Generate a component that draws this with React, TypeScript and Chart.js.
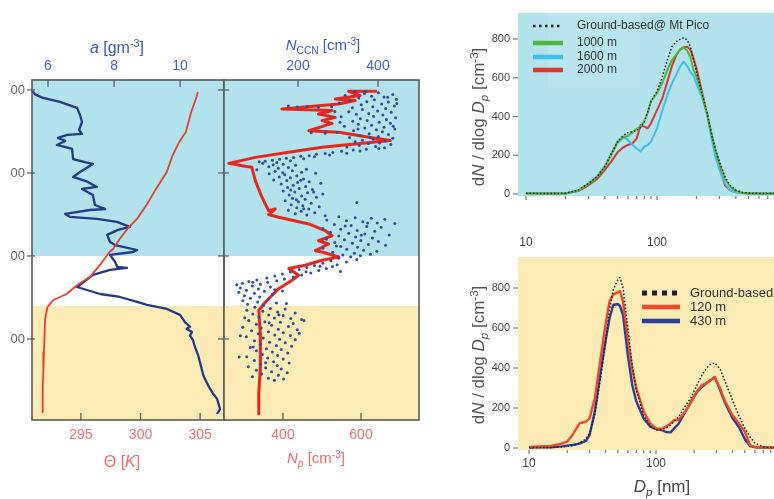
import React, { useEffect, useRef } from 'react';
import { Chart, registerables } from 'chart.js';

Chart.register(...registerables);

const FONT = '"Liberation Sans", Arial, Helvetica, sans-serif';
const CYAN = '#b2e2ec';
const YELLOW = '#fcebb4';

// ---------------- DATA ----------------
// Vertical profiles (altitude in m)
const altitudeTicks = [500, 1000, 1500, 2000];
const aTicks = [6, 8, 10];
const thetaTicks = [295, 300, 305];
const ccnTicks = [200, 400];
const npTicks = [400, 600];
const cloudLayerBase = 1000; // top of white band
const mixedLayerTop = 700; // top of yellow band

const humidityA = [5.53, 5.6, 5.85, 6.36, 6.88, 6.97, 7.03, 6.94, 7.03, 6.58, 6.3, 6.52, 6.27, 6.73, 6.76, 7.12, 7.36, 6.97, 6.76, 7.21, 7.48, 7.03, 7.36, 7.42, 7.73, 7.27, 6.52, 6.67, 7.48, 8.09, 8.48, 8.12, 7.79, 7.88, 8.03, 8.7, 8.58, 7.88, 8.03, 8.1, 8.39, 7.88, 7.36, 6.88, 7.18, 7.58, 8.18, 8.7, 9.0, 9.6, 10.0, 10.15, 10.3, 10.2, 10.36, 10.3, 10.39, 10.45, 10.55, 10.6, 10.7, 10.8, 10.91, 11.0, 11.12, 11.21, 11.12];
const humidityAlt = [1994, 1975, 1952, 1928, 1892, 1849, 1807, 1759, 1735, 1729, 1711, 1693, 1669, 1645, 1584, 1566, 1554, 1506, 1476, 1446, 1416, 1404, 1367, 1307, 1283, 1277, 1253, 1235, 1223, 1205, 1175, 1157, 1127, 1084, 1066, 1036, 1024, 1006, 964, 934, 928, 916, 886, 813, 795, 771, 753, 723, 705, 681, 645, 600, 575, 560, 542, 520, 494, 452, 400, 361, 283, 240, 199, 170, 139, 78, 48];

const thetaK = [304.8, 304.7, 304.25, 303.8, 303.25, 302.7, 302.2, 301.3, 300.5, 299.7, 298.9, 298.25, 297.7, 297.4, 296.6, 295.75, 294.7, 293.8, 292.7, 292.2, 292.0, 291.9, 291.85, 291.8, 291.8];
const thetaAlt = [1988, 1958, 1867, 1747, 1687, 1608, 1506, 1404, 1307, 1223, 1163, 1102, 1042, 1024, 946, 873, 825, 771, 735, 693, 620, 422, 300, 223, 60];

const npConc = [641, 568, 598, 534, 585, 543, 397, 526, 491, 534, 500, 526, 466, 543, 620, 675, 585, 500, 415, 329, 261, 295, 320, 329, 346, 363, 380, 363, 389, 466, 508, 526, 491, 517, 483, 500, 543, 500, 457, 415, 440, 423, 389, 355, 338, 342, 342, 338, 338];
const npAlt = [1992, 1992, 1966, 1946, 1936, 1916, 1886, 1876, 1855, 1835, 1815, 1799, 1755, 1745, 1715, 1695, 1675, 1655, 1625, 1594, 1558, 1544, 1534, 1454, 1354, 1273, 1283, 1249, 1233, 1193, 1153, 1122, 1092, 1072, 1032, 1024, 994, 974, 944, 924, 884, 854, 803, 723, 673, 522, 321, 181, 50];

// N_CCN samples: [N_CCN, altitude]
const ccnSamples = [
  [342, 1991], [401, 1983], [366, 1979], [437, 1972], [318, 1966], [384, 1962], [415, 1957], [352, 1951], [446, 1944], [391, 1941], [331, 1936], [372, 1929], [426, 1927], [303, 1921], [409, 1915], [358, 1911], [441, 1903], [387, 1899], [336, 1893], [176, 1904], [198, 1897], [223, 1901], [251, 1896], [284, 1899], [419, 1888], [361, 1882], [399, 1874], [327, 1869], [433, 1866], [377, 1858], [346, 1853], [412, 1849], [389, 1841], [308, 1838], [444, 1833], [356, 1827], [421, 1822], [373, 1816], [337, 1811], [403, 1806], [431, 1799], [351, 1793], [384, 1787], [316, 1782], [415, 1776], [367, 1771], [442, 1765], [396, 1760], [339, 1754], [411, 1749], [233, 1742], [268, 1739], [298, 1744], [378, 1736], [426, 1731], [355, 1725], [401, 1720], [329, 1713], [437, 1709], [388, 1703], [361, 1697], [418, 1692], [343, 1688], [404, 1681], [376, 1677], [432, 1671], [353, 1666], [394, 1660], [322, 1657], [416, 1652],
  [447, 1918], [438, 1781], [305, 1806], [292, 1871], [424, 1956], [370, 1990], [350, 1765], [380, 1715],
  [402, 1647], [371, 1643], [338, 1638], [355, 1633], [309, 1631], [287, 1624], [322, 1619], [268, 1617], [246, 1613], [279, 1608], [228, 1604], [207, 1601], [241, 1597], [189, 1593], [171, 1589], [214, 1586], [154, 1582], [136, 1577], [181, 1574], [118, 1571], [103, 1567], [147, 1563],
  [112, 1558], [163, 1553], [138, 1549], [194, 1546], [127, 1538], [176, 1533], [151, 1529], [221, 1523], [97, 1519], [186, 1514], [143, 1511], [209, 1504], [244, 1499], [128, 1496], [167, 1489], [197, 1483], [153, 1476], [181, 1471], [214, 1463], [139, 1458], [172, 1454], [228, 1447], [199, 1443], [257, 1438], [158, 1433], [188, 1426], [219, 1419], [174, 1413], [203, 1407], [236, 1401], [163, 1392], [192, 1386], [224, 1381], [262, 1374], [178, 1367], [209, 1361], [246, 1354], [186, 1347], [218, 1341], [168, 1333], [201, 1326], [347, 1322], [233, 1317], [183, 1309], [212, 1303], [253, 1297], [197, 1291], [227, 1283], [176, 1276], [208, 1269], [242, 1261], [193, 1254], [222, 1247], [268, 1243], [182, 1398], [207, 1456], [162, 1502], [239, 1386], [196, 1339], [214, 1285],
  [302, 1236], [343, 1231], [383, 1227], [417, 1221], [272, 1216], [321, 1212], [362, 1206], [398, 1199], [442, 1196], [291, 1189], [333, 1183], [372, 1177], [408, 1173], [262, 1166], [307, 1161], [348, 1154], [392, 1149], [281, 1143], [327, 1137], [367, 1133], [428, 1127], [302, 1121], [344, 1114], [386, 1109], [271, 1103], [316, 1097], [357, 1093], [401, 1087], [292, 1081], [336, 1076], [376, 1069], [419, 1064], [307, 1057], [349, 1053], [262, 1046], [322, 1041], [364, 1034], [397, 1029], [287, 1023], [341, 1017], [381, 1011], [312, 1006], [356, 1001], [318, 1180], [358, 1125], [296, 1060], [374, 1198],
  [332, 996], [302, 987], [347, 979], [282, 971], [321, 963], [262, 956], [298, 947], [241, 943], [286, 937], [222, 931], [271, 924], [203, 919], [252, 913], [306, 907], [181, 903], [232, 897], [161, 891], [209, 885], [142, 879], [188, 873], [122, 867], [166, 861], [97, 856], [147, 851], [77, 846], [124, 841], [61, 836], [106, 829], [47, 826], [86, 819], [131, 813], [56, 807], [101, 801], [71, 793], [116, 787], [52, 781], [91, 775], [136, 769], [66, 761], [104, 753], [81, 746], [126, 739], [62, 731], [99, 723], [146, 717], [74, 709], [114, 703], [171, 714], [161, 789], [255, 938], [220, 905], [87, 842], [142, 796],
  [92, 691], [131, 684], [168, 681], [72, 673], [112, 667], [149, 663], [193, 657], [87, 651], [127, 644], [163, 641], [102, 633], [141, 627], [182, 623], [209, 617], [77, 611], [117, 604], [156, 601], [188, 594], [96, 589], [134, 583], [176, 575], [62, 571], [108, 566], [151, 559], [198, 556], [84, 549], [126, 543], [163, 537], [101, 531], [142, 524], [181, 521], [71, 513], [113, 506], [154, 499], [193, 496], [91, 489], [129, 481], [168, 477], [106, 469], [146, 461], [184, 456], [81, 449], [121, 441], [158, 437], [96, 429], [136, 421], [174, 416], [111, 407], [149, 401], [72, 393], [124, 386], [163, 379], [91, 371], [139, 363], [178, 356], [106, 347], [148, 341], [76, 333], [119, 326], [158, 319], [96, 311], [134, 303], [173, 296], [109, 289], [151, 281], [86, 273], [126, 264], [164, 259], [141, 251], [56, 519], [53, 391], [215, 612], [203, 534], [128, 598], [88, 452], [119, 357], [152, 646], [67, 628],
];

// Size distributions, top (cloud layer) panel
const diam3 = [10, 15, 20, 25, 30, 35, 40, 45, 50, 55, 60, 65, 70, 75, 80, 85, 90, 95, 100, 110, 120, 130, 140, 150, 160, 170, 180, 190, 200, 220, 240, 260, 280, 300, 330, 360, 400, 450, 500, 600, 800, 1000];
const groundPico = [4, 2, 4, 20, 55, 90, 141, 210, 270, 300, 317, 322, 327, 344, 373, 425, 476, 506, 528, 606, 692, 760, 786, 798, 806, 795, 760, 692, 632, 520, 425, 313, 227, 167, 89, 46, 20, 8, 5, 3, 3, 3];
const at1000 = [2, 2, 3, 18, 52, 88, 140, 205, 265, 290, 300, 318, 335, 350, 375, 420, 480, 500, 520, 575, 640, 690, 720, 745, 755, 740, 705, 640, 605, 515, 420, 315, 225, 160, 80, 40, 15, 6, 3, 2, 2, 2];
const at1600 = [2, 2, 3, 18, 55, 92, 145, 210, 270, 296, 279, 253, 235, 220, 245, 253, 270, 305, 339, 433, 511, 571, 614, 657, 683, 660, 630, 610, 570, 500, 420, 290, 190, 125, 55, 20, 8, 4, 2, 2, 2, 2];
const at2000 = [2, 2, 3, 15, 45, 78, 124, 170, 215, 240, 253, 262, 287, 356, 348, 339, 365, 399, 433, 495, 580, 660, 715, 745, 757, 760, 745, 700, 650, 530, 420, 310, 215, 140, 45, 20, 10, 5, 3, 2, 2, 2];

// Size distributions, bottom (boundary layer) panel
const diam4 = [10, 12, 15, 18, 20, 22, 25, 28, 30, 33, 36, 40, 43, 46, 50, 52, 55, 60, 65, 70, 80, 90, 100, 110, 120, 130, 140, 150, 170, 190, 210, 230, 250, 270, 290, 320, 350, 400, 450, 500, 550, 600, 700, 800, 1000];
const groundBased = [2, 2, 3, 5, 8, 12, 25, 45, 75, 170, 320, 530, 690, 790, 840, 852, 800, 600, 410, 290, 160, 110, 90, 92, 100, 115, 135, 155, 210, 255, 315, 365, 400, 420, 425, 395, 332, 240, 160, 100, 55, 25, 5, 2, 2];
const at120 = [5, 8, 10, 22, 32, 65, 123, 132, 148, 248, 415, 615, 732, 768, 778, 785, 732, 548, 398, 298, 182, 123, 98, 95, 107, 123, 140, 140, 182, 232, 282, 315, 323, 340, 352, 298, 232, 165, 123, 82, 15, 5, 3, 2, 2];
const at430 = [2, 3, 4, 8, 12, 15, 22, 35, 65, 182, 348, 532, 648, 715, 720, 710, 665, 465, 315, 232, 148, 107, 95, 90, 80, 78, 100, 120, 180, 235, 280, 305, 325, 340, 355, 290, 225, 150, 105, 45, 10, 4, 2, 2, 2];

const sizeTicks = [10, 20, 30, 40, 50, 60, 70, 80, 90, 100, 200, 300, 400, 500, 600, 700, 800, 900, 1000];
const sizeTickLabels = [10, 100];
const dndTicks = [0, 200, 400, 600, 800];

// ---------------- LAYOUT ----------------
type Geo = { left: number; top: number; width: number; height: number; l: number; t: number; r: number; b: number };
const G1: Geo = { left: 11, top: 30, width: 215, height: 440, l: 32, t: 80, r: 224, b: 420 };
const G2: Geo = { left: 218, top: 30, width: 203, height: 440, l: 224, t: 80, r: 419, b: 420 };
const G3: Geo = { left: 462, top: 0, width: 338, height: 252, l: 518, t: 13, r: 788, b: 196 };
const G4: Geo = { left: 462, top: 252, width: 338, height: 247, l: 518, t: 257, r: 783, b: 450 };

const fixedTicks = (values: number[]) => (s: any) => {
  s.ticks = values.map((v) => ({ value: v }));
};
const sizeFix = (px: number, horiz: boolean) => (s: any) => {
  if (horiz) s.height = px;
  else s.width = px;
  s.paddingLeft = 0;
  s.paddingRight = 0;
  s.paddingTop = 0;
  s.paddingBottom = 0;
};

type Part = { t: string; it?: boolean; sub?: boolean; sup?: boolean };
function drawRich(ctx: any, parts: Part[], x: number, y: number, size: number, color: string, rotate = false) {
  ctx.save();
  ctx.translate(x, y);
  if (rotate) ctx.rotate(-Math.PI / 2);
  const fontFor = (p: Part) => `${p.it ? 'italic ' : ''}${p.sub || p.sup ? size * 0.68 : size}px ${FONT}`;
  let total = 0;
  const widths = parts.map((p) => {
    ctx.font = fontFor(p);
    const w = ctx.measureText(p.t).width;
    total += w;
    return w;
  });
  let cx = -total / 2;
  ctx.fillStyle = color;
  ctx.textBaseline = 'alphabetic';
  ctx.textAlign = 'left';
  parts.forEach((p, i) => {
    ctx.font = fontFor(p);
    const dy = p.sub ? size * 0.25 : p.sup ? -size * 0.38 : 0;
    ctx.fillText(p.t, cx, size * 0.36 + dy);
    cx += widths[i];
  });
  ctx.restore();
}

function marks(chart: any, id: string, inner: number, outer: number, color: string, major?: number[], minorOuter = 2.5) {
  const s = chart.scales[id];
  const a = chart.chartArea;
  const ctx = chart.ctx;
  ctx.save();
  ctx.strokeStyle = color;
  ctx.lineWidth = 1.2;
  for (const t of s.ticks) {
    const p = s.getPixelForValue(t.value);
    const isMajor = !major || major.includes(t.value);
    const o = isMajor ? outer : minorOuter;
    const i = isMajor ? inner : 0;
    ctx.beginPath();
    if (s.position === 'left') {
      ctx.moveTo(a.left - o, p);
      ctx.lineTo(a.left + i, p);
    } else if (s.position === 'top') {
      ctx.moveTo(p, a.top - o);
      ctx.lineTo(p, a.top + i);
    } else {
      ctx.moveTo(p, a.bottom + o);
      ctx.lineTo(p, a.bottom - i);
    }
    ctx.stroke();
  }
  ctx.restore();
}

const bandPlugin = {
  id: 'bands',
  beforeDatasetsDraw(chart: any) {
    const ctx = chart.ctx;
    const a = chart.chartArea;
    const ys = chart.scales.y;
    const yc = ys.getPixelForValue(cloudLayerBase);
    const ym = ys.getPixelForValue(mixedLayerTop);
    ctx.save();
    ctx.fillStyle = CYAN;
    ctx.fillRect(a.left, a.top, a.right - a.left, yc - a.top);
    ctx.fillStyle = YELLOW;
    ctx.fillRect(a.left, ym, a.right - a.left, a.bottom - ym);
    ctx.restore();
  },
};
const fillPlugin = (color: string) => ({
  id: 'fillbg',
  beforeDatasetsDraw(chart: any) {
    const ctx = chart.ctx;
    const a = chart.chartArea;
    ctx.save();
    ctx.fillStyle = color;
    ctx.fillRect(a.left, a.top, a.right - a.left, a.bottom - a.top);
    ctx.restore();
  },
});

const baseOptions = (g: Geo, hasTop: boolean) => ({
  responsive: false,
  animation: false,
  events: [],
  layout: {
    autoPadding: false,
    padding: {
      left: 0,
      right: g.left + g.width - g.r,
      top: hasTop ? 0 : g.t - g.top,
      bottom: 0,
    },
  },
  plugins: { legend: { display: false }, tooltip: { enabled: false }, title: { display: false } },
});

const numLabel = (v: any) => String(v);
const noGrid = { display: false, drawTicks: false };
const noBorder = { display: false };

function cfg1(): any {
  const g = G1;
  return {
    type: 'scatter',
    data: {
      datasets: [
        {
          label: 'Θ',
          data: thetaK.map((v, i) => ({ x: v, y: thetaAlt[i] })),
          xAxisID: 'xt', yAxisID: 'y', showLine: true, pointRadius: 0,
          borderColor: '#e3402f', borderWidth: 1.8, borderJoinStyle: 'round',
        },
        {
          label: 'a',
          data: humidityA.map((v, i) => ({ x: v, y: humidityAlt[i] })),
          xAxisID: 'xa', yAxisID: 'y', showLine: true, pointRadius: 0,
          borderColor: '#22398c', borderWidth: 2.3, borderJoinStyle: 'round',
        },
      ],
    },
    options: {
      ...baseOptions(g, true),
      scales: {
        xa: {
          type: 'linear', position: 'top', min: 5.515, max: 11.33,
          afterBuildTicks: fixedTicks(aTicks), afterFit: sizeFix(g.t - g.top, true),
          grid: noGrid, border: noBorder,
          ticks: { color: '#4964b5', font: { family: FONT, size: 14 }, padding: 5, maxRotation: 0, autoSkip: false, callback: numLabel },
        },
        xt: {
          type: 'linear', position: 'bottom', min: 290.9, max: 307,
          afterBuildTicks: fixedTicks(thetaTicks), afterFit: sizeFix(g.top + g.height - g.b, true),
          grid: noGrid, border: noBorder,
          ticks: { color: '#ea6f70', font: { family: FONT, size: 14 }, padding: 7, maxRotation: 0, autoSkip: false, callback: numLabel },
        },
        y: {
          type: 'linear', position: 'left', min: 12, max: 2060,
          afterBuildTicks: fixedTicks(altitudeTicks), afterFit: sizeFix(g.l - g.left, false),
          grid: noGrid, border: noBorder,
          ticks: { color: '#666', font: { family: FONT, size: 13 }, padding: 7, autoSkip: false, callback: numLabel },
        },
      },
    },
    plugins: [
      bandPlugin,
      {
        id: 'deco1',
        afterDraw(chart: any) {
          const ctx = chart.ctx;
          const a = chart.chartArea;
          marks(chart, 'xa', 7, 0, '#555');
          marks(chart, 'xt', 7, 0, '#555');
          marks(chart, 'y', 3, 5, '#555');
          ctx.save();
          ctx.strokeStyle = '#5a5a5a';
          ctx.lineWidth = 1.6;
          ctx.strokeRect(a.left, a.top, a.right - a.left, a.bottom - a.top);
          ctx.restore();
          drawRich(ctx, [{ t: 'a', it: true }, { t: ' [gm' }, { t: '-3', sup: true }, { t: ']' }], 117 - g.left, 47 - g.top, 16, '#3e5bb5');
          drawRich(ctx, [{ t: 'Θ [' }, { t: 'K', it: true }, { t: ']' }], 122 - g.left, 461 - g.top, 16, '#ea6b6b');
        },
      },
    ],
  };
}

function cfg2(): any {
  const g = G2;
  return {
    type: 'scatter',
    data: {
      datasets: [
        {
          label: 'N_CCN',
          data: ccnSamples.map((p) => ({ x: p[0], y: p[1] })),
          xAxisID: 'xc', yAxisID: 'y', showLine: false, pointRadius: 1.5,
          pointBackgroundColor: '#2d4ea5', pointBorderWidth: 0,
        },
        {
          label: 'N_p',
          data: npConc.map((v, i) => ({ x: v, y: npAlt[i] })),
          xAxisID: 'xn', yAxisID: 'y', showLine: true, pointRadius: 0,
          borderColor: '#e8261c', borderWidth: 3, borderJoinStyle: 'round',
        },
      ],
    },
    options: {
      ...baseOptions(g, true),
      scales: {
        xc: {
          type: 'linear', position: 'top', min: 15, max: 502.5,
          afterBuildTicks: fixedTicks(ccnTicks), afterFit: sizeFix(g.t - g.top, true),
          grid: noGrid, border: noBorder,
          ticks: { color: '#4964b5', font: { family: FONT, size: 14 }, padding: 5, maxRotation: 0, autoSkip: false, callback: numLabel },
        },
        xn: {
          type: 'linear', position: 'bottom', min: 248.7, max: 748.7,
          afterBuildTicks: fixedTicks(npTicks), afterFit: sizeFix(g.top + g.height - g.b, true),
          grid: noGrid, border: noBorder,
          ticks: { color: '#ea6f70', font: { family: FONT, size: 14 }, padding: 7, maxRotation: 0, autoSkip: false, callback: numLabel },
        },
        y: {
          type: 'linear', position: 'left', min: 12, max: 2060,
          afterBuildTicks: fixedTicks(altitudeTicks), afterFit: sizeFix(g.l - g.left, false),
          grid: noGrid, border: noBorder,
          ticks: { display: false },
        },
      },
    },
    plugins: [
      bandPlugin,
      {
        id: 'deco2',
        afterDraw(chart: any) {
          const ctx = chart.ctx;
          const a = chart.chartArea;
          marks(chart, 'xc', 7, 0, '#555');
          marks(chart, 'xn', 7, 0, '#555');
          marks(chart, 'y', 5, 6, '#555');
          ctx.save();
          ctx.strokeStyle = '#5a5a5a';
          ctx.lineWidth = 1.6;
          ctx.strokeRect(a.left, a.top, a.right - a.left, a.bottom - a.top);
          ctx.restore();
          drawRich(ctx, [{ t: 'N', it: true }, { t: 'CCN', sub: true }, { t: ' [cm' }, { t: '-3', sup: true }, { t: ']' }], 323 - g.left, 45 - g.top, 15, '#3e5bb5');
          drawRich(ctx, [{ t: 'N', it: true }, { t: 'p', it: true, sub: true }, { t: ' [cm' }, { t: '-3', sup: true }, { t: ']' }], 316 - g.left, 458 - g.top, 15, '#ea6b6b');
        },
      },
    ],
  };
}

const yTitle: Part[] = [{ t: 'd' }, { t: 'N', it: true }, { t: ' / dlog ' }, { t: 'D', it: true }, { t: 'p', it: true, sub: true }, { t: ' [cm' }, { t: '-3', sup: true }, { t: ']' }];

function sizeScales(g: Geo, xmin: number, ymin: number, ymax: number, xPad: number) {
  return {
    x: {
      type: 'logarithmic', position: 'bottom', min: xmin, max: 1000,
      afterBuildTicks: fixedTicks(sizeTicks), afterFit: sizeFix(g.top + g.height - g.b, true),
      grid: noGrid, border: noBorder,
      ticks: {
        color: '#444', font: { family: FONT, size: 12 }, padding: xPad, maxRotation: 0, minRotation: 0, autoSkip: false,
        callback: (v: any) => (sizeTickLabels.includes(Number(v)) ? String(v) : ''),
      },
    },
    y: {
      type: 'linear', position: 'left', min: ymin, max: ymax,
      afterBuildTicks: fixedTicks(dndTicks), afterFit: sizeFix(g.l - g.left, false),
      grid: noGrid, border: noBorder,
      ticks: { color: '#444', font: { family: FONT, size: 11 }, padding: 8, autoSkip: false, callback: numLabel },
    },
  };
}

const line = (label: string, xs: number[], ys: number[], color: string, width: number, dash?: number[]) => ({
  label,
  data: ys.map((v, i) => ({ x: xs[i], y: v })),
  showLine: true, pointRadius: 0, borderColor: color, borderWidth: width,
  borderDash: dash || [], borderJoinStyle: 'round',
});

function legend(ctx: any, chart: any, g: Geo, x1: number, x2: number, tx: number, rows: number[], size: number, dashSample: { w: number; d: number[] }) {
  chart.data.datasets.forEach((ds: any, i: number) => {
    const y = rows[i] - g.top;
    ctx.save();
    ctx.beginPath();
    ctx.strokeStyle = ds.borderColor;
    if (ds.borderDash && ds.borderDash.length) {
      ctx.lineWidth = dashSample.w;
      ctx.setLineDash(dashSample.d);
    } else {
      ctx.lineWidth = 4.5;
    }
    ctx.moveTo(x1 - g.left, y);
    ctx.lineTo(x2 - g.left, y);
    ctx.stroke();
    ctx.setLineDash([]);
    ctx.fillStyle = '#333';
    ctx.font = `${size}px ${FONT}`;
    ctx.textBaseline = 'middle';
    ctx.textAlign = 'left';
    ctx.fillText(ds.label, tx - g.left, y);
    ctx.restore();
  });
}

function cfg3(): any {
  const g = G3;
  return {
    type: 'scatter',
    data: {
      datasets: [
        line('Ground-based@ Mt Pico', diam3, groundPico, '#1f1f1f', 1.5, [1.5, 2]),
        line('1000 m', diam3, at1000, '#4cb83c', 2),
        line('1600 m', diam3, at1600, '#3fbfe9', 2),
        line('2000 m', diam3, at2000, '#d63a34', 2),
      ],
    },
    options: { ...baseOptions(g, false), scales: sizeScales(g, 8.69, -10.3, 934, 39) },
    plugins: [
      fillPlugin(CYAN),
      {
        id: 'deco3',
        afterDraw(chart: any) {
          const ctx = chart.ctx;
          marks(chart, 'x', 0, 4, '#777', sizeTickLabels, 3);
          marks(chart, 'y', 0, 5, '#777');
          ctx.save();
          ctx.fillStyle = 'rgba(255,255,255,0.10)';
          ctx.fillRect(548 - g.left, 14 - g.top, 92, 74);
          ctx.restore();
          legend(ctx, chart, g, 533, 563, 577, [26, 43, 57, 70], 12, { w: 2.5, d: [2.5, 3.5] });
          drawRich(ctx, yTitle, 478 - g.left, 117 - g.top, 17, '#555', true);
        },
      },
    ],
  };
}

function cfg4(): any {
  const g = G4;
  return {
    type: 'scatter',
    data: {
      datasets: [
        line('Ground-based', diam4, groundBased, '#1f1f1f', 1.5, [1.5, 2]),
        line('120 m', diam4, at120, '#f0482a', 2.4),
        line('430 m', diam4, at430, '#2b3f96', 2.4),
      ],
    },
    options: { ...baseOptions(g, false), scales: sizeScales(g, 8.19, -10, 955, 6) },
    plugins: [
      fillPlugin(YELLOW),
      {
        id: 'deco4',
        afterDraw(chart: any) {
          const ctx = chart.ctx;
          marks(chart, 'x', 0, 4, '#777', sizeTickLabels, 3);
          marks(chart, 'y', 0, 5, '#777');
          legend(ctx, chart, g, 642, 680, 690, [293, 307, 321], 13, { w: 5, d: [5, 5] });
          drawRich(ctx, yTitle, 478 - g.left, 355 - g.top, 17, '#555', true);
          drawRich(ctx, [{ t: 'D', it: true }, { t: 'p', it: true, sub: true }, { t: ' [nm]' }], 662 - g.left, 486 - g.top, 17, '#444');
        },
      },
    ],
  };
}

export default function App() {
  const r1 = useRef<HTMLCanvasElement>(null);
  const r2 = useRef<HTMLCanvasElement>(null);
  const r3 = useRef<HTMLCanvasElement>(null);
  const r4 = useRef<HTMLCanvasElement>(null);

  useEffect(() => {
    const charts = [
      new Chart(r1.current as HTMLCanvasElement, cfg1()),
      new Chart(r2.current as HTMLCanvasElement, cfg2()),
      new Chart(r3.current as HTMLCanvasElement, cfg3()),
      new Chart(r4.current as HTMLCanvasElement, cfg4()),
    ];
    return () => charts.forEach((c) => c.destroy());
  }, []);

  const cs = (g: Geo): React.CSSProperties => ({ position: 'absolute', left: g.left, top: g.top, width: g.width, height: g.height });

  return (
    <div style={{ position: 'fixed', left: 0, top: 0, width: 774, height: 499, overflow: 'hidden', background: '#fff' }}>
      <canvas ref={r1} width={G1.width} height={G1.height} style={cs(G1)} />
      <canvas ref={r2} width={G2.width} height={G2.height} style={cs(G2)} />
      <canvas ref={r3} width={G3.width} height={G3.height} style={cs(G3)} />
      <canvas ref={r4} width={G4.width} height={G4.height} style={cs(G4)} />
    </div>
  );
}
